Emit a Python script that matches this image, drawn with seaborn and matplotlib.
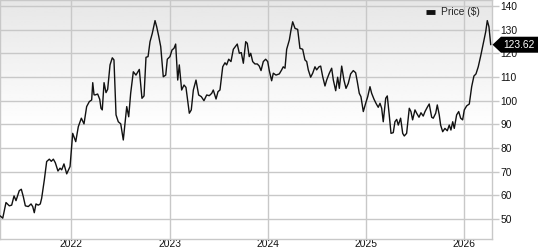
import numpy as np
import pandas as pd
import matplotlib
matplotlib.use("Agg")
import matplotlib.pyplot as plt
import seaborn as sns
from matplotlib.patches import Polygon

# ---- data (time in decimal years, price in $) ----
years = [
    2021.274, 2021.302, 2021.335, 2021.369, 2021.393, 2021.417, 2021.437, 2021.470, 2021.491, 2021.511,
    2021.532, 2021.562, 2021.590, 2021.607, 2021.623, 2021.640, 2021.664, 2021.684, 2021.698, 2021.725,
    2021.749, 2021.776, 2021.796, 2021.817, 2021.837, 2021.864, 2021.885, 2021.902, 2021.925, 2021.953,
    2021.987, 2022.014, 2022.045, 2022.071, 2022.102, 2022.129, 2022.156, 2022.183, 2022.207, 2022.218,
    2022.231, 2022.241, 2022.268, 2022.289, 2022.302, 2022.315, 2022.333, 2022.353, 2022.370, 2022.394,
    2022.417, 2022.434, 2022.455, 2022.478, 2022.503, 2022.529, 2022.564, 2022.584, 2022.604, 2022.631,
    2022.658, 2022.692, 2022.719, 2022.740, 2022.760, 2022.781, 2022.801, 2022.824, 2022.852, 2022.869,
    2022.889, 2022.910, 2022.936, 2022.961, 2022.977, 2023.004, 2023.025, 2023.045, 2023.062, 2023.083,
    2023.099, 2023.123, 2023.147, 2023.167, 2023.201, 2023.221, 2023.242, 2023.269, 2023.296, 2023.323,
    2023.350, 2023.378, 2023.404, 2023.429, 2023.445, 2023.473, 2023.493, 2023.513, 2023.541, 2023.564,
    2023.581, 2023.602, 2023.625, 2023.649, 2023.669, 2023.689, 2023.710, 2023.730, 2023.751, 2023.775,
    2023.791, 2023.811, 2023.826, 2023.846, 2023.869, 2023.893, 2023.913, 2023.931, 2023.954, 2023.978,
    2023.999, 2024.015, 2024.039, 2024.056, 2024.083, 2024.117, 2024.141, 2024.157, 2024.175, 2024.192,
    2024.219, 2024.236, 2024.253, 2024.277, 2024.304, 2024.327, 2024.355, 2024.378, 2024.396, 2024.412,
    2024.436, 2024.457, 2024.480, 2024.497, 2024.521, 2024.538, 2024.559, 2024.582, 2024.599, 2024.626,
    2024.650, 2024.667, 2024.691, 2024.711, 2024.728, 2024.752, 2024.775, 2024.796, 2024.819, 2024.843,
    2024.870, 2024.894, 2024.911, 2024.931, 2024.948, 2024.972, 2024.996, 2025.017, 2025.040, 2025.057,
    2025.081, 2025.101, 2025.124, 2025.142, 2025.159, 2025.175, 2025.200, 2025.216, 2025.236, 2025.254,
    2025.277, 2025.294, 2025.312, 2025.328, 2025.352, 2025.373, 2025.389, 2025.413, 2025.440, 2025.457,
    2025.474, 2025.498, 2025.515, 2025.539, 2025.559, 2025.582, 2025.600, 2025.623, 2025.643, 2025.668,
    2025.684, 2025.709, 2025.725, 2025.745, 2025.759, 2025.780, 2025.803, 2025.827, 2025.847, 2025.864,
    2025.882, 2025.898, 2025.922, 2025.943, 2025.963, 2025.983, 2026.000, 2026.024, 2026.051, 2026.075,
    2026.098, 2026.119, 2026.142, 2026.167, 2026.193, 2026.218, 2026.234, 2026.251, 2026.269,
]
price = [
    51.4, 50.4, 57.0, 55.6, 55.9, 59.8, 57.8, 62.0, 62.6, 59.5,
    55.6, 55.3, 56.4, 55.3, 52.7, 56.4, 55.9, 56.4, 58.8, 66.5,
    74.3, 75.3, 74.4, 75.3, 73.8, 70.3, 71.5, 70.8, 73.3, 69.1,
    72.2, 86.2, 82.7, 89.0, 92.6, 90.2, 97.5, 99.6, 100.3, 107.6,
    102.5, 102.4, 102.8, 100.6, 96.8, 96.1, 107.6, 103.4, 104.8, 115.1,
    118.1, 117.2, 94.0, 91.1, 90.2, 83.4, 97.5, 93.2, 103.1, 112.2,
    110.8, 113.2, 101.0, 102.0, 118.3, 118.6, 124.9, 128.4, 133.8, 131.2,
    127.3, 122.8, 110.1, 110.8, 117.5, 118.6, 121.4, 122.1, 123.9, 108.7,
    115.1, 104.5, 106.6, 105.6, 94.7, 96.1, 104.5, 108.7, 102.4, 101.7,
    100.0, 102.4, 102.1, 103.1, 104.5, 100.7, 103.8, 104.5, 114.3, 116.0,
    115.1, 117.5, 116.5, 121.7, 122.8, 123.9, 120.0, 120.3, 115.8, 124.9,
    124.2, 118.6, 120.0, 116.5, 115.5, 115.5, 114.6, 112.7, 116.5, 117.5,
    116.5, 112.7, 108.4, 111.6, 110.8, 111.3, 113.0, 114.3, 113.7, 121.7,
    125.6, 129.8, 133.3, 130.5, 130.1, 122.1, 121.7, 117.2, 116.5, 113.0,
    109.9, 111.6, 114.3, 113.0, 114.3, 114.6, 110.1, 106.2, 108.7, 111.6,
    113.7, 108.7, 104.2, 109.9, 105.2, 114.6, 108.7, 105.2, 107.3, 111.3,
    112.7, 111.8, 108.0, 103.1, 101.7, 95.4, 98.9, 101.7, 105.9, 103.1,
    100.6, 98.9, 97.2, 98.9, 96.8, 91.1, 101.0, 102.0, 94.0, 86.2,
    86.5, 91.1, 92.1, 89.7, 92.6, 86.2, 85.1, 86.2, 96.8, 95.4,
    91.9, 96.1, 94.7, 93.0, 94.9, 93.5, 95.4, 97.2, 98.6, 93.0,
    92.6, 94.7, 98.2, 94.0, 89.7, 86.9, 88.3, 87.3, 89.7, 87.6,
    91.1, 88.3, 94.0, 95.4, 92.6, 91.9, 96.1, 97.8, 98.6, 105.9,
    110.4, 111.3, 114.3, 118.9, 124.2, 129.1, 133.8, 131.2, 123.62,
]
year_ticks = [2022, 2023, 2024, 2025, 2026]
price_ticks = [50, 60, 70, 80, 90, 100, 110, 120, 130, 140]
series_label = "Price ($)"
last_label = "123.62"

df = pd.DataFrame({"year": years, "price": price})

sns.set_style("white")
plt.rcParams["font.family"] = ["Liberation Sans", "DejaVu Sans"]

W, H = 538, 250
fig = plt.figure(figsize=(W / 100, H / 100), dpi=100)
ax = fig.add_axes([0.0, 11 / H, 492 / W, 239 / H])

xmin, xmax = 2021.274, 2026.282
ymin, ymax = 41.6, 142.5

# gradient background
grad = np.ones((100, 1))
rows = np.linspace(0, 1, 100)  # 0 = top
grad[:, 0] = np.clip(0.905 + 0.095 * rows / 0.55, 0, 1)
ax.imshow(grad, extent=[0, 1, 0, 1], transform=ax.transAxes, cmap="gray",
          vmin=0, vmax=1, aspect="auto", zorder=0, interpolation="bilinear")

sns.lineplot(data=df, x="year", y="price", ax=ax, color="#111111",
             linewidth=1.0, label=series_label, zorder=3, estimator=None, sort=False)

ax.set_xlim(xmin, xmax)
ax.set_ylim(ymin, ymax)
ax.set_xlabel("")
ax.set_ylabel("")

grid_c = "#c8c8c8"
ax.set_xticks(year_ticks)
ax.set_xticklabels([str(y) for y in year_ticks])
ax.set_yticks(price_ticks)
ax.yaxis.tick_right()
ax.grid(True, color=grid_c, linewidth=1.0, zorder=1)
ax.set_axisbelow(True)
ax.tick_params(axis="x", length=0, pad=0.3, labelsize=7.4, colors="#111111")
ax.tick_params(axis="y", length=5.2, width=1.0, color=grid_c, pad=1.0,
               labelsize=7.4, labelcolor="#111111")
for s in ax.spines.values():
    s.set_color(grid_c)
    s.set_linewidth(1.0)

leg = ax.legend(loc="upper right", bbox_to_anchor=(0.99, 1.0), frameon=False,
                fontsize=7.4, handlelength=0.9, handletextpad=0.6,
                borderaxespad=0.3)
for h in leg.get_lines():
    h.set_linewidth(3.5)
    h.set_solid_capstyle("butt")

# last price marker (arrow box) anchored at right axis and last value
ax_right_disp, y_disp = ax.transData.transform((xmax, price[-1]))
px = lambda x, y: (x / W, y / H)
h2 = 8.0
tip = ax_right_disp + 0.5
body = tip + 8.5
poly = Polygon([px(tip, y_disp), px(body, y_disp + h2), px(W + 2, y_disp + h2),
                px(W + 2, y_disp - h2), px(body, y_disp - h2)],
               closed=True, transform=fig.transFigure, facecolor="black",
               edgecolor="none", zorder=5, clip_on=False)
fig.patches.append(poly)
fig.text((body + 2) / W, y_disp / H, last_label, color="white", fontsize=7.4,
         ha="left", va="center", zorder=6)

fig.savefig("out.png", dpi=100)
